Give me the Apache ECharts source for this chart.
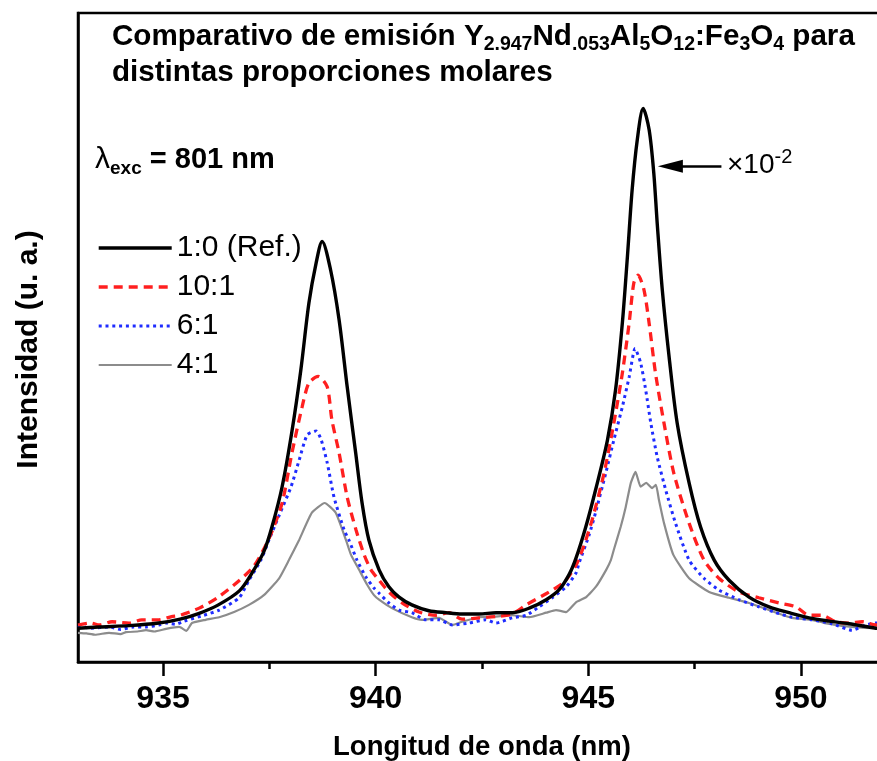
<!DOCTYPE html>
<html>
<head>
<meta charset="utf-8">
<script src="https://cdn.jsdelivr.net/npm/echarts@6/dist/echarts.min.js"></script>
<style>
  html, body { margin: 0; padding: 0; background: #ffffff; }
  #chart { width: 877px; height: 761px; }
</style>
</head>
<body>
<div id="chart"></div>
<script>
// Emission spectra of Y2.947Nd.053Al5O12:Fe3O4 for several molar ratios (a.u.)
const FONT = '"Liberation Sans", Arial, Helvetica, sans-serif';

const seriesNames = ['1:0 (Ref.)', '10:1', '6:1', '4:1'];
const xTicks = [935, 940, 945, 950];
const xMinorTicks = [937.5, 942.5, 947.5];

// 1:0 (Ref.)
const wlRef = [933.0, 933.5, 934.2, 934.9, 935.4, 935.85, 936.3, 936.8, 937.1, 937.37,
  937.56, 937.8, 938.03, 938.24, 938.43, 938.6, 938.74, 938.94, 939.14, 939.33,
  939.53, 939.68, 939.84, 940.08, 940.31, 940.55, 940.85, 941.25, 941.65, 942.03,
  942.43, 942.83, 943.21, 943.61, 944.01, 944.31, 944.55, 944.71, 944.94, 945.17,
  945.45, 945.64, 945.80, 945.92, 946.03, 946.15, 946.29, 946.43, 946.54, 946.62,
  946.74, 946.90, 947.09, 947.37, 947.64, 947.96, 948.31, 948.78, 949.25, 949.72,
  950.19, 950.66, 951.13, 951.76, 952.0];
const intRef = [5.2, 5.4, 5.6, 6.0, 6.6, 7.5, 8.8, 11.0, 13.8, 17.0,
  20.8, 27.0, 35.5, 45.0, 55.3, 61.5, 64.8, 60.4, 52.7, 42.4,
  32.2, 24.5, 18.8, 14.2, 11.6, 10.0, 8.8, 7.9, 7.6, 7.4,
  7.4, 7.6, 7.6, 8.3, 9.6, 11.1, 13.5, 16.0, 20.8, 26.5,
  34.2, 41.9, 52.2, 62.5, 72.7, 80.4, 85.3, 82.0, 75.3, 67.6,
  57.3, 47.0, 36.8, 27.6, 20.8, 15.7, 12.6, 10.0, 8.5, 7.6,
  6.8, 6.3, 5.9, 5.2, 5.1];

// 10:1
const wl10 = [933.0, 933.3, 933.5, 933.8, 934.2, 934.5, 934.9, 935.2, 935.4, 935.85,
  936.3, 936.8, 937.14, 937.49, 937.8, 938.03, 938.27, 938.43, 938.65, 938.86,
  938.97, 939.14, 939.33, 939.54, 939.73, 939.89, 940.08, 940.31, 940.62, 941.02,
  941.42, 941.72, 942.03, 942.43, 942.83, 943.21, 943.54, 944.08, 944.43, 944.71,
  944.90, 945.09, 945.37, 945.60, 945.80, 945.96, 946.07, 946.17, 946.31, 946.43,
  946.58, 946.78, 947.01, 947.37, 947.72, 948.07, 948.54, 949.01, 949.48, 949.88,
  950.19, 950.49, 950.82, 951.13, 951.44, 951.76, 952.0];
const int10 = [5.7, 6.0, 5.7, 6.2, 6.0, 6.5, 6.5, 7.0, 7.2, 8.3,
  10.0, 12.6, 14.8, 19.0, 24.5, 32.2, 39.3, 43.0, 44.0, 42.4,
  37.3, 32.2, 25.4, 20.3, 16.5, 14.2, 12.6, 10.8, 9.1, 7.7,
  7.2, 7.6, 6.6, 6.8, 7.0, 7.4, 8.8, 10.8, 12.3, 14.9,
  18.0, 21.9, 29.1, 36.8, 44.5, 52.2, 58.4, 59.6, 57.3, 52.2,
  44.5, 36.8, 29.1, 21.4, 15.7, 12.9, 10.8, 9.9, 9.1, 8.5,
  7.2, 7.2, 6.2, 6.0, 6.2, 5.7, 5.7];

// 6:1
const wl6 = [933.0, 933.3, 933.73, 934.0, 934.3, 934.6, 934.9, 935.07, 935.3, 935.5,
  935.96, 936.32, 936.79, 937.02, 937.30, 937.49, 937.73, 938.01, 938.20, 938.39,
  938.60, 938.72, 938.86, 939.02, 939.26, 939.37, 939.56, 939.77, 939.96, 940.08,
  940.31, 940.55, 940.85, 941.18, 941.49, 941.80, 942.19, 942.59, 942.83, 943.21,
  943.54, 943.84, 944.15, 944.48, 944.71, 944.78, 945.02, 945.17, 945.41, 945.60,
  945.80, 945.96, 946.10, 946.23, 946.35, 946.47, 946.62, 946.82, 947.05, 947.37,
  947.72, 948.07, 948.54, 949.01, 949.41, 949.79, 950.26, 950.73, 951.20, 951.53,
  951.76, 952.0];
const int6 = [5.7, 5.2, 5.4, 5.0, 5.4, 5.4, 5.7, 6.0, 5.8, 6.3,
  7.2, 8.0, 9.9, 12.6, 15.7, 18.8, 22.6, 27.0, 31.1, 35.0,
  35.6, 34.2, 30.7, 25.4, 20.3, 18.8, 15.7, 13.1, 11.4, 10.6,
  9.1, 8.0, 7.6, 6.5, 6.5, 5.7, 6.0, 6.5, 6.0, 6.8,
  7.2, 8.5, 9.9, 11.6, 13.7, 15.2, 19.6, 23.0, 29.1, 34.2,
  39.3, 43.9, 48.3, 46.1, 41.9, 36.8, 31.6, 26.5, 21.4, 15.7,
  12.9, 11.1, 9.6, 8.5, 7.6, 6.9, 6.5, 5.9, 4.9, 5.7,
  6.0, 6.0];

// 4:1
const wl4 = [933.0, 933.2, 933.4, 933.73, 934.0, 934.13, 934.4, 934.6, 934.8, 935.07,
  935.38, 935.55, 935.68, 936.0, 936.32, 936.67, 937.02, 937.37, 937.73, 937.96,
  938.20, 938.50, 938.80, 939.06, 939.30, 939.42, 939.61, 939.80, 939.96, 940.08,
  940.38, 940.85, 941.09, 941.49, 941.80, 942.03, 942.43, 942.8, 943.21, 943.61,
  944.01, 944.24, 944.48, 944.71, 944.95, 945.18, 945.42, 945.53, 945.60, 945.76,
  945.88, 946.00, 946.11, 946.23, 946.36, 946.50, 946.59, 946.66, 946.78, 947.0,
  947.37, 947.84, 948.31, 948.78, 949.25, 949.79, 950.26, 950.56, 951.20, 951.76,
  952.0];
const int4 = [4.5, 4.4, 4.2, 4.5, 4.3, 4.6, 4.7, 4.9, 4.7, 5.1,
  5.4, 4.8, 6.0, 6.5, 6.9, 7.7, 8.8, 10.3, 12.9, 15.7,
  18.8, 23.0, 24.5, 23.0, 18.8, 16.5, 14.2, 11.9, 10.3, 9.6,
  8.3, 6.9, 6.5, 6.8, 5.7, 6.2, 6.9, 7.0, 7.2, 6.9,
  7.6, 8.0, 7.7, 9.2, 10.0, 11.6, 14.2, 15.7, 17.3, 20.8,
  23.9, 27.6, 29.3, 27.0, 27.6, 26.8, 27.3, 25.0, 21.4, 16.5,
  12.9, 10.8, 9.9, 9.1, 8.0, 6.8, 6.5, 6.0, 5.4, 5.2,
  5.2];

// Arrow marking the scaled reference peak (data coordinates)
const arrowFromNm = 948.13;
const arrowToNm = 946.93;
const arrowLevel = 76.4;

const pairs = (xs, ys) => xs.map((x, i) => [x, ys[i]]);

const chart = echarts.init(document.getElementById('chart'), null, { renderer: 'canvas' });

const titleRich = {
  b: { fontFamily: FONT, fontWeight: 'bold', fontSize: 29.6, lineHeight: 36, fill: '#000' },
  s: { fontFamily: FONT, fontWeight: 'bold', fontSize: 19.5, lineHeight: 17, verticalAlign: 'bottom', fill: '#000' }
};

const option = {
  animation: false,
  backgroundColor: '#ffffff',
  grid: {
    left: 78, top: 13, width: 808, height: 649,
    show: true, borderColor: '#000', borderWidth: 2.5,
    containLabel: false, outerBoundsMode: 'none'
  },
  legend: {
    data: seriesNames,
    orient: 'vertical',
    left: 97, top: 233, padding: 0,
    itemWidth: 73, itemHeight: 14, itemGap: 9,
    selectedMode: false,
    itemStyle: { opacity: 0 },
    lineStyle: { width: 'inherit' },
    textStyle: { fontFamily: FONT, fontSize: 30, lineHeight: 30, color: '#000' }
  },
  xAxis: [
    {
      type: 'value', min: 933, max: 952,
      name: 'Longitud de onda (nm)', nameLocation: 'middle', nameGap: 71,
      nameTextStyle: { fontFamily: FONT, fontWeight: 'bold', fontSize: 27.5, color: '#000' },
      axisLine: { show: true, onZero: false, lineStyle: { color: '#000', width: 2.5 } },
      axisTick: { show: true, inside: false, length: 14, customValues: xTicks, lineStyle: { color: '#000', width: 2.5 } },
      axisLabel: { show: true, customValues: xTicks, margin: 21, fontFamily: FONT, fontWeight: 'bold', fontSize: 32, color: '#000' },
      splitLine: { show: false }
    },
    {
      type: 'value', min: 933, max: 952, position: 'bottom',
      axisLine: { show: false },
      axisTick: { show: true, inside: false, length: 7, customValues: xMinorTicks, lineStyle: { color: '#000', width: 2.5 } },
      axisLabel: { show: false },
      splitLine: { show: false }
    }
  ],
  yAxis: {
    type: 'value', min: 0, max: 100,
    name: 'Intensidad (u. a.)', nameLocation: 'middle', nameGap: 34,
    nameTextStyle: { fontFamily: FONT, fontWeight: 'bold', fontSize: 30, color: '#000', padding: [0, 24, 0, 0] },
    axisLine: { show: true, onZero: false, lineStyle: { color: '#000', width: 2.5 } },
    axisTick: { show: false },
    axisLabel: { show: false },
    splitLine: { show: false }
  },
  series: [
    {
      name: '4:1', type: 'line', data: pairs(wl4, int4), symbol: 'none', smooth: 0.15,
      itemStyle: { color: '#8c8c8c' },
      lineStyle: { color: '#8c8c8c', width: 2.2 }, z: 2
    },
    {
      name: '6:1', type: 'line', data: pairs(wl6, int6), symbol: 'none', smooth: 0.2,
      itemStyle: { color: '#1f2cff' },
      lineStyle: { color: '#1f2cff', width: 3, type: [3, 3.8] }, z: 3
    },
    {
      name: '10:1', type: 'line', data: pairs(wl10, int10), symbol: 'none', smooth: 0.25,
      itemStyle: { color: '#ff1f1f' },
      lineStyle: { color: '#ff1f1f', width: 3.3, type: [9, 6] }, z: 4
    },
    {
      name: '1:0 (Ref.)', type: 'line', data: pairs(wlRef, intRef), symbol: 'none', smooth: 0.3,
      itemStyle: { color: '#000' },
      lineStyle: { color: '#000', width: 3.4 }, z: 5,
      markLine: {
        silent: true, animation: false,
        symbol: ['none', 'triangle'], symbolSize: [13, 25],
        lineStyle: { color: '#000', width: 2.5, type: 'solid' },
        label: { show: false },
        emphasis: { disabled: true },
        data: [[{ coord: [arrowFromNm, arrowLevel] }, { coord: [arrowToNm, arrowLevel] }]]
      }
    }
  ],
  graphic: [
    {
      type: 'text', left: 112, top: 22,
      style: {
        text: '{b|Comparativo de emisión Y}{s|2.947}{b|Nd}{s|.053}{b|Al}{s|5}{b|O}{s|12}{b|:Fe}{s|3}{b|O}{s|4}{b| para}',
        rich: titleRich
      }
    },
    {
      type: 'text', left: 112, top: 58,
      style: { text: '{b|distintas proporciones molares}', rich: titleRich }
    },
    {
      type: 'text', left: 95, top: 145,
      style: {
        text: '{l|λ}{e|exc}{b| = 801 nm}',
        rich: {
          l: { fontFamily: FONT, fontSize: 30, lineHeight: 36, fill: '#000' },
          e: { fontFamily: FONT, fontWeight: 'bold', fontSize: 19, lineHeight: 17, verticalAlign: 'bottom', fill: '#000' },
          b: { fontFamily: FONT, fontWeight: 'bold', fontSize: 29, lineHeight: 36, fill: '#000' }
        }
      }
    },
    {
      type: 'text', left: 727, top: 147,
      style: {
        text: '{n|×10}{p|-2}',
        rich: {
          n: { fontFamily: FONT, fontSize: 28, lineHeight: 36, fill: '#000' },
          p: { fontFamily: FONT, fontSize: 20, lineHeight: 9, verticalAlign: 'top', fill: '#000' }
        }
      }
    }
  ]
};

chart.setOption(option);
</script>
</body>
</html>
